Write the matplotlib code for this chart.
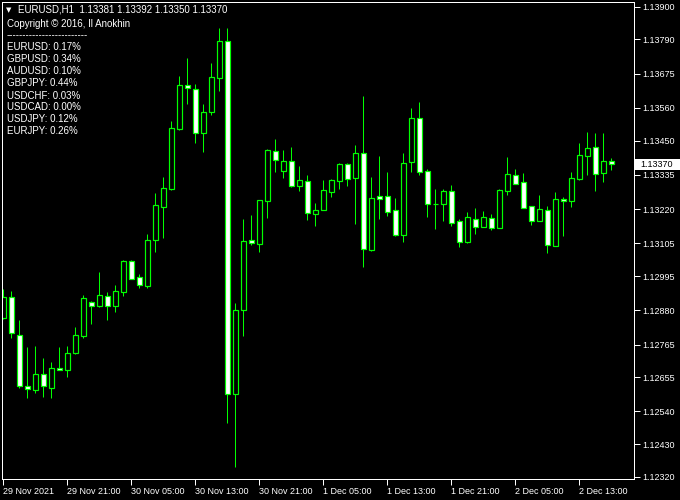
import numpy as np
import matplotlib
matplotlib.use("Agg")
import matplotlib.pyplot as plt
import matplotlib.transforms as mtransforms
from matplotlib.patches import Rectangle

# ── Data: EURUSD H1 candles (29 Nov 13:00 .. 2 Dec 17:00) ─────────────────────
opens = [1.12853, 1.12924, 1.12796, 1.12627, 1.12611, 1.12665, 1.12618, 1.12686,
         1.12678, 1.12735, 1.12793, 1.12907, 1.12895, 1.12927, 1.12895, 1.12942,
         1.13046, 1.12991, 1.12963, 1.13117, 1.13228, 1.13287, 1.13490, 1.13636,
         1.13622, 1.13475, 1.13547, 1.13659, 1.13784, 1.12598, 1.12880, 1.13115,
         1.13104, 1.13248, 1.13415, 1.13349, 1.13382, 1.13299, 1.13314, 1.13205,
         1.13218, 1.13278, 1.13315, 1.13371, 1.13325, 1.13408, 1.13084, 1.13264,
         1.13263, 1.13217, 1.13134, 1.13377, 1.13525, 1.13348, 1.13237, 1.13238,
         1.13281, 1.13180, 1.13110, 1.13187, 1.13161, 1.13190, 1.13157, 1.13282,
         1.13335, 1.13311, 1.13230, 1.13181, 1.13217, 1.13097, 1.13254, 1.13246,
         1.13322, 1.13399, 1.13429, 1.13342, 1.13381]
highs = [1.12950, 1.12945, 1.12847, 1.12757, 1.12760, 1.12720, 1.12706, 1.12757,
         1.12760, 1.12824, 1.12931, 1.12910, 1.13009, 1.12941, 1.12965, 1.13049,
         1.13049, 1.13002, 1.13136, 1.13274, 1.13328, 1.13516, 1.13667, 1.13728,
         1.13640, 1.13573, 1.13711, 1.13828, 1.13828, 1.12903, 1.13187, 1.13200,
         1.13252, 1.13422, 1.13455, 1.13419, 1.13429, 1.13365, 1.13335, 1.13240,
         1.13318, 1.13321, 1.13375, 1.13375, 1.13435, 1.13600, 1.13328, 1.13398,
         1.13345, 1.13257, 1.13408, 1.13560, 1.13580, 1.13355, 1.13287, 1.13287,
         1.13301, 1.13188, 1.13210, 1.13224, 1.13214, 1.13203, 1.13287, 1.13395,
         1.13355, 1.13341, 1.13231, 1.13267, 1.13230, 1.13277, 1.13261, 1.13345,
         1.13442, 1.13479, 1.13476, 1.13476, 1.13392]
lows = [1.12850, 1.12788, 1.12620, 1.12586, 1.12603, 1.12590, 1.12586, 1.12678,
        1.12657, 1.12733, 1.12788, 1.12835, 1.12892, 1.12847, 1.12874, 1.12929,
        1.12985, 1.12956, 1.12956, 1.13077, 1.13124, 1.13284, 1.13486, 1.13572,
        1.13443, 1.13413, 1.13537, 1.13618, 1.12502, 1.12354, 1.12795, 1.13099,
        1.13077, 1.13191, 1.13346, 1.13325, 1.13295, 1.13282, 1.13184, 1.13164,
        1.13217, 1.13262, 1.13288, 1.13299, 1.13171, 1.13026, 1.13080, 1.13188,
        1.13198, 1.13131, 1.13110, 1.13346, 1.13336, 1.13194, 1.13154, 1.13181,
        1.13164, 1.13094, 1.13107, 1.13137, 1.13160, 1.13151, 1.13156, 1.13268,
        1.13304, 1.13224, 1.13168, 1.13180, 1.13073, 1.13096, 1.13131, 1.13228,
        1.13319, 1.13336, 1.13282, 1.13312, 1.13350]
closes = [1.12924, 1.12803, 1.12627, 1.12614, 1.12665, 1.12625, 1.12685, 1.12678,
          1.12735, 1.12796, 1.12920, 1.12895, 1.12931, 1.12895, 1.12944, 1.13046,
          1.12986, 1.12966, 1.13115, 1.13233, 1.13290, 1.13491, 1.13636, 1.13626,
          1.13475, 1.13545, 1.13663, 1.13784, 1.12598, 1.12881, 1.13113, 1.13105,
          1.13251, 1.13419, 1.13386, 1.13382, 1.13299, 1.13318, 1.13206, 1.13217,
          1.13284, 1.13318, 1.13371, 1.13322, 1.13408, 1.13087, 1.13256, 1.13255,
          1.13211, 1.13134, 1.13374, 1.13525, 1.13344, 1.13238, 1.13236, 1.13281,
          1.13174, 1.13110, 1.13193, 1.13161, 1.13193, 1.13157, 1.13284, 1.13338,
          1.13305, 1.13225, 1.13181, 1.13220, 1.13100, 1.13254, 1.13246, 1.13324,
          1.13402, 1.13425, 1.13339, 1.13382, 1.13370]

time_labels = ["29 Nov 2021", "29 Nov 21:00", "30 Nov 05:00", "30 Nov 13:00",
               "30 Nov 21:00", "1 Dec 05:00", "1 Dec 13:00", "1 Dec 21:00",
               "2 Dec 05:00", "2 Dec 13:00"]
price_ticks = [1.13900, 1.13790, 1.13675, 1.13560, 1.13450, 1.13335, 1.13220,
               1.13105, 1.12995, 1.12880, 1.12765, 1.12655, 1.12540, 1.12430,
               1.12320]
pairs = ["EURUSD", "GBPUSD", "AUDUSD", "GBPJPY", "USDCHF", "USDCAD", "USDJPY", "EURJPY"]
pair_pct = [0.17, 0.34, 0.10, 0.44, 0.03, 0.00, 0.12, 0.26]
last_price = 1.13370

# ── Style ─────────────────────────────────────────────────────────────────────
GREEN = "#00ff00"
FONT = "Liberation Sans"
W, H = 680, 500
px = 1 / 100 * 72  # one pixel in points

fig = plt.figure(figsize=(W / 100, H / 100), dpi=100, facecolor="black")
ax = fig.add_axes([2 / W, (H - 479) / H, 632 / W, 477 / H], facecolor="black")

idx = np.arange(len(opens))
o = np.array(opens); c = np.array(closes)
h = np.array(highs); l = np.array(lows)
bull = c >= o

# wicks
ax.vlines(idx, l, h, color=GREEN, linewidth=px, zorder=1)
# bodies: bullish hollow (black), bearish white
bottoms = np.minimum(o, c)
heights = np.abs(c - o)
ax.bar(idx[bull], heights[bull], bottom=bottoms[bull], width=0.6,
       facecolor="black", edgecolor=GREEN, linewidth=1.2 * px, zorder=2)
ax.bar(idx[~bull], heights[~bull], bottom=bottoms[~bull], width=0.6,
       facecolor="white", edgecolor=GREEN, linewidth=1.2 * px, zorder=2)

ax.set_xlim(-0.1625, -0.1625 + 79)
ax.set_ylim(1.123131, 1.139158)

for s in ax.spines.values():
    s.set_color("white")
    s.set_linewidth(px)

ax.yaxis.tick_right()
ax.set_yticks(price_ticks)
ax.set_yticklabels([f"{v:.5f}" for v in price_ticks])
ax.set_xticks(np.arange(0, 8 * len(time_labels), 8))
ax.set_xticklabels(time_labels, ha="left")
ax.tick_params(axis="both", colors="white", length=4, width=px, labelsize=6.5, pad=2)
for lab in ax.get_xticklabels() + ax.get_yticklabels():
    lab.set_fontfamily(FONT)
for lab in ax.get_xticklabels():
    lab.set_horizontalalignment("left")

# current price marker: white box on the price scale
trans = mtransforms.blended_transform_factory(ax.transAxes, ax.transData)
box_h = 0.00035
ax.add_patch(Rectangle((1.002, last_price - box_h / 2), 0.07, box_h, transform=trans,
                       facecolor="white", edgecolor="none", clip_on=False, zorder=5))
ax.annotate(f"{last_price:.5f}", xy=(1.0, last_price), xycoords=trans,
            xytext=(6 * px, 0), textcoords="offset points", ha="left", va="center",
            fontsize=6.5, family=FONT, color="black", annotation_clip=False, zorder=6)

# ── Text block, top left ──────────────────────────────────────────────────────
def ftext(x, y, s, family=FONT, size=7):
    fig.text(x / W, 1 - y / H, s, color="white", fontsize=size, family=family,
             va="center", ha="left")

ftext(6, 10, "▼", family="DejaVu Sans", size=5)
ftext(18, 10, f"EURUSD,H1  {opens[-1]:.5f} {highs[-1]:.5f} {lows[-1]:.5f} {closes[-1]:.5f}")
ftext(7, 24, "Copyright © 2016, Il Anokhin")
ftext(7, 35, "-" * 25)
for k, (name, pct) in enumerate(zip(pairs, pair_pct)):
    ftext(7, 47.5 + 12 * k, f"{name}: {pct:.2f}%")

fig.savefig("out.png", dpi=100, facecolor="black")
